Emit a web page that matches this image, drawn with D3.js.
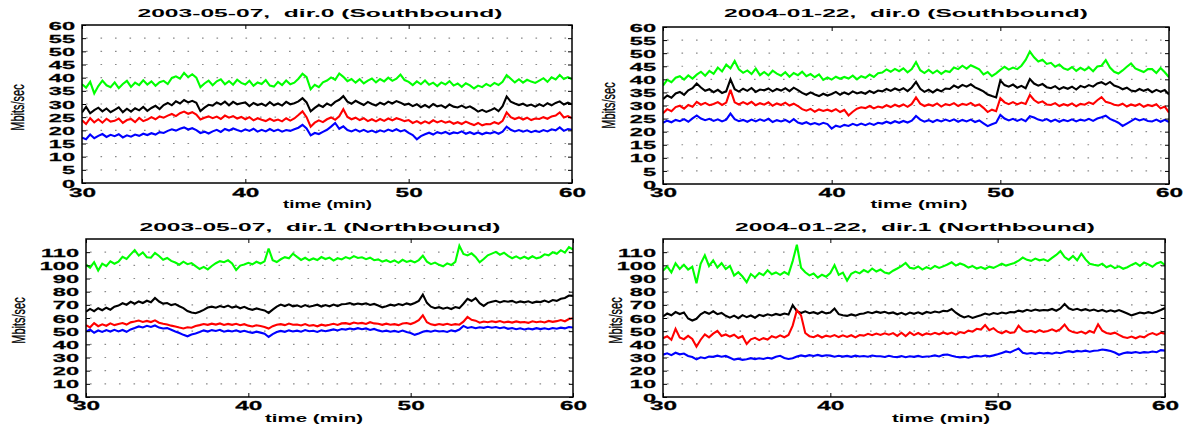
<!DOCTYPE html>
<html><head><meta charset="utf-8">
<script src="https://cdn.jsdelivr.net/npm/d3@7"></script>
<style>body{margin:0;background:#fff}svg{display:block}text{font-family:"Liberation Sans",Arial,Helvetica,sans-serif}</style>
</head><body><svg id="c" width="1186" height="428"></svg>
<script>
// sample grid: one value every 0.25 min from 30 to 60
const T0 = 30, DT = 0.25;
const xTicks = [30, 40, 50, 60];
const yTicksSouth = [0, 5, 10, 15, 20, 25, 30, 35, 40, 45, 50, 55, 60];
const yTicksNorth = [0, 10, 20, 30, 40, 50, 60, 70, 80, 90, 100, 110];
const titles = ["2003-05-07,  dir.0 (Southbound)", "2004-01-22,  dir.0 (Southbound)",
                "2003-05-07,  dir.1 (Northbound)", "2004-01-22,  dir.1 (Northbound)"];
const yLabel = "Mbits/sec";
const xLabel = "time (min)";
const seriesColors = ["#00ff00", "#000000", "#ff0000", "#0000ff"];

// ---- 2003-05-07 dir.0 ----
const s03d0Green = [37.5,36.2,38.4,34.0, 36.8,38.9,37.1,36.4, 38.2,36.0,37.6,38.8, 36.5,38.1,37.2,39.0, 37.4,38.6,36.9,38.3,
 38.8,37.6,39.9,40.5, 39.6,41.8,40.2,41.3, 40.0,36.4,37.8,38.9, 37.1,38.6,39.4,37.5, 38.7,37.3,39.2,38.0,
 37.4,38.8,36.9,38.2, 37.6,39.1,37.0,36.6, 38.4,37.2,38.9,37.5, 38.1,39.6,41.5,40.2, 35.6,37.3,36.4,38.2,
 38.9,40.1,39.2,41.6, 40.3,38.7,39.5,38.1, 39.4,37.8,38.9,39.7, 38.2,39.5,38.6,40.0, 38.8,39.6,41.2,39.1,
 38.4,37.2,38.6,37.5, 38.9,37.3,38.1,36.8, 38.2,37.4,38.7,37.0, 37.8,36.5,37.9,37.1, 35.9,37.0,36.4,37.6,
 36.8,38.0,37.2,38.4, 41.0,39.6,38.2,39.4, 38.1,39.2,38.5,38.0, 38.9,39.8,38.4,40.1, 39.3,41.0,39.5,40.2, 39.4];
const s03d0Black = [26.8,28.9,26.5,27.7, 28.6,27.2,28.3,26.9, 27.8,28.7,26.9,28.2, 27.1,28.4,27.6,28.9, 27.4,28.5,29.3,28.1,
 29.6,30.4,29.5,31.0, 30.2,31.5,30.6,31.2, 30.5,27.3,28.6,29.7, 29.4,30.6,29.8,30.9, 29.5,30.8,29.9,30.3,
 30.6,29.2,30.4,29.6, 30.1,29.3,30.7,29.5, 30.2,29.4,30.8,29.9, 30.3,31.0,32.2,30.6, 27.2,28.5,29.6,28.9,
 30.2,29.4,30.8,31.6, 33.0,30.9,30.1,31.2, 30.4,29.6,30.8,30.0, 29.4,30.5,29.8,30.9, 30.2,31.1,30.5,29.7,
 30.1,29.2,29.9,28.8, 29.6,28.7,30.0,29.1, 29.5,28.6,29.8,29.0, 28.7,29.4,28.5,29.1, 28.2,27.1,27.8,27.0,
 27.6,28.4,27.3,29.2, 32.8,30.9,30.2,29.6, 30.1,29.3,29.8,29.0, 29.9,29.2,30.3,29.5, 30.4,31.0,29.8,30.5, 29.9];
const s03d0Red = [23.8,22.4,24.6,23.0, 24.2,22.9,24.4,23.3, 23.6,24.5,22.8,23.9, 24.3,23.1,24.7,23.5, 24.1,25.0,24.2,25.3,
 24.8,25.6,26.2,25.4, 26.5,27.1,26.3,26.9, 26.0,24.1,24.8,25.3, 24.6,25.2,24.3,25.6, 24.8,25.4,24.5,25.1,
 24.2,25.0,23.8,24.6, 24.0,23.5,24.4,23.6, 24.1,23.4,24.6,23.7, 24.5,25.8,27.2,25.0, 21.4,22.9,23.8,23.1,
 24.2,24.9,24.0,25.3, 28.0,25.1,24.2,24.8, 23.9,24.6,23.5,24.2, 23.4,24.3,23.6,24.5, 23.8,24.6,24.1,23.5,
 23.9,22.8,23.5,22.6, 23.4,22.7,23.8,23.0, 23.6,22.9,23.4,22.5, 23.1,22.4,23.3,22.6, 22.0,22.8,21.9,22.4,
 22.3,23.1,22.5,23.6, 26.8,25.0,24.3,24.9, 24.1,24.8,23.9,24.5, 24.3,25.0,24.4,25.3, 25.6,26.8,24.9,25.4, 24.6];
const s03d0Blue = [17.2,16.6,18.4,17.0, 17.9,18.6,17.5,18.3, 17.8,18.5,17.3,18.1, 17.6,18.4,17.9,18.7, 18.2,18.9,18.4,19.3,
 19.0,19.8,20.4,19.9, 20.6,21.1,20.3,20.8, 20.1,19.0,19.5,18.8, 19.6,20.2,19.4,20.5, 19.9,20.7,20.1,19.6,
 20.4,19.8,20.6,19.5, 20.2,19.6,20.5,19.7, 20.3,19.5,20.1,19.8, 20.4,21.0,22.1,20.7, 18.1,19.0,18.6,19.4,
 20.2,21.4,22.8,20.6, 21.5,20.1,19.6,20.3, 19.5,20.2,19.4,19.9, 19.2,20.0,19.5,20.3, 19.7,20.4,19.6,20.1,
 19.0,18.2,16.6,17.8, 18.5,19.1,18.4,19.3, 18.8,19.4,18.6,19.2, 18.9,19.6,18.7,19.3, 18.6,19.2,18.5,19.1,
 18.8,19.4,18.7,19.5, 21.4,20.2,19.6,20.1, 19.5,20.0,19.3,19.8, 19.4,20.1,19.6,20.4, 20.0,21.1,19.8,20.5, 20.2];

// ---- 2004-01-22 dir.0 ----
const s04d0Green = [37.6,39.8,38.9,40.6, 41.2,39.9,41.5,40.3, 41.8,42.9,41.4,43.2, 42.1,44.5,43.0,45.6, 44.2,47.0,43.8,42.5,
 43.4,42.0,44.1,41.6, 42.8,41.5,43.3,42.2, 41.4,42.7,41.0,42.4, 41.6,42.9,41.2,42.0, 40.8,41.9,39.8,40.7,
 39.9,41.0,40.2,40.9, 40.3,41.4,40.0,41.2, 40.6,41.8,40.9,42.3, 42.6,43.8,42.9,44.0, 43.1,44.2,42.7,43.9,
 46.6,43.5,42.4,43.6, 42.3,43.4,42.1,43.2, 42.8,44.5,43.9,45.2, 44.1,45.4,44.6,43.8, 41.9,42.8,41.2,42.3,
 43.6,44.8,43.7,44.5, 43.9,45.2,47.4,50.6, 48.4,46.8,47.5,45.9, 46.3,44.8,45.7,44.2, 43.6,44.7,43.2,44.4,
 43.5,44.6,43.1,44.9, 45.2,47.3,44.5,42.9, 42.2,43.4,44.8,46.1, 44.2,43.5,42.8,43.9, 43.9,42.4,44.3,42.7, 40.8];
const s04d0Black = [32.4,33.8,33.0,34.6, 35.2,34.1,35.8,36.6, 38.4,36.9,35.6,36.2, 35.1,36.0,34.8,35.5, 40.0,36.2,35.3,36.4,
 35.6,36.7,35.2,36.1, 35.8,36.5,35.4,36.3, 35.7,36.6,35.5,36.8, 35.9,34.8,34.1,35.0, 34.2,33.6,34.5,33.8,
 34.4,35.2,34.1,35.0, 34.3,35.4,34.6,35.1, 34.5,35.6,34.8,35.7, 35.4,36.3,35.6,36.5, 35.8,36.6,35.5,36.9,
 39.0,36.4,35.2,36.0, 35.0,36.1,35.4,36.5, 36.3,37.6,36.8,37.9, 37.2,38.1,36.9,36.2, 35.4,34.2,33.6,33.1,
 39.6,37.8,37.2,38.0, 36.8,37.5,36.6,40.1, 38.4,37.6,38.2,37.0, 36.6,37.4,36.2,37.0, 36.4,37.2,36.1,37.5,
 36.9,37.8,37.2,38.4, 38.9,38.0,39.0,37.6, 37.1,36.2,36.8,35.7, 35.4,36.3,35.6,36.2, 35.1,36.0,35.3,35.9, 34.2];
const s04d0Red = [27.0,28.6,27.8,29.4, 29.9,28.8,30.2,29.5, 31.4,30.3,31.0,30.1, 30.6,31.3,30.2,31.1, 36.0,31.2,30.4,31.3,
 30.5,31.4,30.1,30.9, 30.3,31.2,29.9,30.8, 30.2,31.1,30.0,30.7, 29.8,28.6,28.0,28.7, 27.6,28.5,27.9,28.4,
 27.8,28.6,27.5,28.3, 26.2,27.6,28.8,29.3, 29.0,29.8,28.9,29.6, 29.2,30.1,29.4,30.3, 29.6,30.4,29.5,30.6,
 33.1,30.7,29.8,30.4, 29.9,30.8,29.6,30.5, 30.1,30.9,29.8,30.6, 30.2,31.0,29.9,30.4, 29.1,27.5,28.4,27.8,
 32.8,31.2,30.5,31.3, 30.4,31.1,30.6,34.0, 32.1,31.0,31.6,30.4, 30.2,30.9,29.8,30.5, 30.0,30.8,29.7,30.6,
 30.3,31.2,30.6,32.0, 33.2,31.4,31.0,30.3, 30.0,30.7,29.6,30.4, 29.9,30.6,29.5,30.2, 29.8,30.5,28.9,29.6, 27.3];
const s04d0Blue = [23.4,24.2,23.6,24.5, 24.0,24.8,23.8,25.1, 26.2,25.0,24.4,24.9, 24.1,24.7,23.9,24.6, 26.9,24.8,24.0,24.5,
 23.8,24.6,23.9,24.7, 24.1,24.9,23.7,24.4, 23.9,24.5,23.6,24.8, 23.5,23.0,23.6,22.8, 23.3,22.7,23.4,22.9,
 21.2,22.3,21.8,22.6, 22.2,23.0,22.4,23.1, 22.5,23.2,22.6,23.4, 23.1,23.8,23.2,24.0, 23.4,24.1,23.5,24.2,
 26.0,24.6,23.8,24.4, 23.7,24.5,23.9,24.6, 24.0,24.7,23.8,24.5, 23.9,24.6,23.7,24.3, 23.2,22.1,22.8,23.4,
 26.4,25.0,24.3,24.9, 24.1,24.8,24.0,25.9, 25.4,24.6,24.2,24.8, 23.9,24.6,23.8,24.5, 24.0,24.7,23.9,24.6,
 24.2,24.9,24.1,25.0, 25.5,26.1,24.9,24.2, 23.4,22.2,23.1,24.0, 25.0,24.3,24.8,24.1, 23.9,24.6,23.8,24.5, 23.7];

// ---- 2003-05-07 dir.1 ----
const s03d1Green = [100.5,98.2,102.4,96.1, 101.3,99.4,103.0,101.2, 102.8,106.5,104.9,108.3, 111.6,107.4,109.8,106.2, 105.8,109.4,107.1,104.2,
 105.6,103.4,102.1,100.5, 102.8,100.9,101.7,99.4, 97.2,98.8,96.9,99.5, 101.6,103.2,102.4,103.8, 101.5,96.4,99.8,100.6,
 101.9,100.8,102.7,101.4, 103.0,112.8,103.9,102.5, 104.6,106.2,105.3,108.9, 106.4,104.1,105.7,103.8, 105.2,104.0,106.3,104.8,
 105.9,103.6,105.4,104.5, 106.3,105.1,107.0,105.6, 106.1,104.7,105.8,103.9, 104.5,102.8,103.9,102.4, 103.7,101.9,104.2,102.6,
 103.5,102.2,104.0,107.3, 102.8,100.9,102.1,100.4, 99.3,101.5,100.2,102.6, 114.8,108.6,107.5,109.1, 106.4,102.3,104.8,107.6,
 108.9,110.2,108.1,109.6, 107.2,105.4,106.8,105.1, 106.5,105.0,106.9,105.3, 106.2,108.4,107.6,109.9, 108.8,111.5,109.7,113.9, 112.0];
const s03d1Black = [64.8,66.9,65.2,67.4, 65.9,67.8,66.3,68.6, 69.4,71.2,70.1,72.3, 70.8,72.6,71.4,73.1, 72.0,75.2,72.5,70.9,
 71.4,69.8,70.6,68.9, 67.5,65.3,64.1,63.6, 64.8,66.2,67.9,68.6, 67.8,69.1,68.2,69.4, 67.9,68.8,67.4,68.5,
 67.0,66.2,67.3,66.5, 65.8,63.9,66.4,68.7, 70.2,69.1,70.4,68.9, 69.6,68.4,69.8,68.6, 69.3,70.1,68.7,69.8,
 68.9,70.2,69.1,70.4, 70.6,71.3,70.2,71.0, 70.4,71.2,69.9,70.7, 69.5,68.1,69.0,70.1, 69.4,70.6,69.8,71.1,
 70.2,71.4,73.0,77.8, 71.5,68.6,67.4,68.2, 67.1,67.9,66.8,68.3, 67.5,70.8,74.6,72.9, 75.1,71.3,69.2,71.5,
 72.3,73.1,71.8,72.9, 72.4,73.0,71.6,72.6, 71.9,72.7,71.5,72.4, 72.1,73.2,72.0,73.6, 73.0,74.6,75.2,77.1, 76.8];
const s03d1Red = [54.6,52.9,56.1,53.8, 55.2,54.1,55.9,54.6, 55.4,56.2,55.0,56.7, 57.3,58.1,57.0,57.8, 56.9,58.2,56.4,55.6,
 55.1,54.2,53.6,52.8, 52.1,53.0,52.6,53.9, 54.6,55.4,54.8,55.7, 55.0,55.9,54.7,55.5, 54.8,55.6,54.5,55.3,
 54.2,53.6,54.5,53.9, 53.2,52.0,53.8,54.9, 55.3,54.6,55.8,54.9, 55.1,54.3,55.4,54.1, 54.6,53.7,54.9,54.2,
 54.8,55.6,54.7,55.9, 56.1,55.4,56.6,55.8, 56.3,55.5,56.8,55.9, 55.6,54.8,55.7,54.9, 55.3,54.6,55.8,56.2,
 55.4,56.6,58.3,62.1, 56.8,55.2,54.6,55.4, 54.8,55.6,54.7,55.3, 54.9,57.2,60.8,58.6, 58.0,56.4,57.3,56.8,
 57.5,56.9,57.7,56.6, 57.2,56.5,57.4,56.7, 57.0,56.3,57.5,56.8, 57.3,56.6,57.8,57.1, 57.6,58.4,57.5,59.2, 59.8];
const s03d1Blue = [49.6,51.2,48.8,50.5, 49.4,50.8,49.7,51.0, 49.8,50.9,49.5,51.3, 52.4,53.6,52.8,54.1, 53.2,54.3,52.7,52.0,
 52.3,51.1,49.8,48.6, 47.2,46.1,47.5,48.3, 49.4,50.6,49.7,50.8, 50.1,51.0,49.6,50.4, 49.8,50.7,49.5,50.3,
 49.4,48.7,49.6,48.9, 48.1,45.6,47.8,49.3, 50.2,49.5,50.6,49.8, 50.4,49.6,50.8,49.9, 50.3,49.4,50.7,50.0,
 50.6,51.3,50.5,51.6, 51.2,52.0,51.4,52.3, 51.5,52.1,50.9,51.7, 50.6,49.8,50.4,49.6, 50.2,49.4,50.5,49.3,
 48.6,47.2,48.3,49.5, 50.2,49.6,50.5,49.8, 50.1,49.4,50.6,49.9, 51.2,54.0,52.4,53.1, 52.2,53.0,52.5,53.3,
 52.6,53.1,52.2,52.9, 51.8,52.4,51.5,52.2, 51.3,52.0,51.4,52.3, 51.6,52.2,51.5,52.4, 51.9,52.7,52.1,53.2, 52.8];

// ---- 2004-01-22 dir.1 ----
const s04d1Green = [95.8,99.2,94.6,101.5, 97.3,100.4,96.8,98.9, 86.4,101.2,107.6,99.5, 103.8,98.4,101.6,97.2, 99.6,92.3,94.8,91.5,
 87.2,93.4,90.8,94.1, 92.5,96.3,93.2,94.6, 92.8,94.9,93.1,103.2, 115.6,98.2,94.7,92.4, 93.8,90.6,92.9,91.4,
 94.2,100.1,92.8,94.5, 88.4,93.6,95.2,93.9, 96.4,94.8,97.6,95.3, 96.8,94.5,93.7,95.9, 97.6,99.4,101.8,98.2,
 97.5,99.1,96.8,98.6, 97.3,99.5,98.0,99.2, 100.6,102.3,99.8,101.4, 100.2,98.3,99.4,97.6, 98.7,97.2,99.0,98.1,
 99.6,101.2,99.8,100.9, 101.8,103.5,105.9,104.2, 103.4,105.1,103.8,104.6, 103.2,105.7,107.9,110.8, 106.3,104.2,107.1,103.8,
 108.9,104.5,101.2,100.4, 99.8,101.3,98.6,99.9, 97.9,99.2,97.4,98.6, 100.3,101.8,99.6,102.1, 100.7,98.9,101.4,102.6, 100.2];
const s04d1Black = [61.2,63.4,62.1,64.5, 63.0,64.2,59.6,58.1, 59.4,62.8,64.6,63.2, 65.1,62.9,63.8,61.7, 60.3,61.8,59.9,62.2,
 60.6,61.9,60.2,62.4, 61.5,62.8,61.9,63.1, 62.2,63.4,62.6,69.8, 65.2,63.8,65.1,63.6, 64.4,63.2,64.8,63.5,
 64.1,67.2,62.9,62.1, 61.6,62.7,61.8,63.0, 63.4,64.5,63.6,64.8, 63.9,64.7,63.5,64.2, 62.8,63.9,62.5,64.1,
 63.2,64.3,63.0,64.6, 63.8,64.9,64.2,65.4, 65.1,66.8,64.0,61.9, 60.4,61.5,60.1,61.2, 62.1,63.4,62.5,63.8,
 63.1,64.2,63.4,64.5, 64.3,65.6,64.9,66.2, 65.3,66.4,65.6,66.1, 65.8,66.9,65.5,67.2, 70.6,67.4,66.1,67.0,
 65.8,66.7,65.5,66.4, 65.2,66.1,64.8,65.9, 64.9,66.0,64.7,63.4, 62.0,63.1,64.2,63.5, 64.4,63.6,64.8,66.1, 67.6];
const s04d1Red = [44.6,46.1,43.4,51.8, 45.2,43.9,46.4,44.1, 38.2,43.5,47.6,45.3, 48.1,50.2,46.4,47.5, 45.9,47.3,44.8,46.2,
 40.3,43.8,44.9,43.2, 44.7,43.6,46.2,45.1, 46.8,45.4,47.1,54.2, 65.9,62.0,48.6,46.2, 45.4,46.9,45.2,46.6,
 45.8,47.0,45.5,46.8, 45.6,46.9,45.3,47.1, 46.6,48.0,46.9,48.2, 47.1,48.4,47.3,48.5, 46.4,48.8,46.2,49.1,
 47.0,48.6,46.9,48.3, 47.5,48.7,47.6,49.0, 47.8,48.9,47.4,49.3, 48.5,50.4,49.6,51.8, 51.2,54.6,50.8,52.3,
 49.6,48.4,50.1,48.7, 49.2,54.1,50.6,49.5, 50.3,49.1,50.7,49.4, 50.2,51.4,49.9,51.6, 55.0,50.8,49.3,48.6,
 49.7,48.2,50.1,48.9, 55.2,50.3,48.6,48.0, 48.9,47.2,45.6,44.8, 45.9,44.6,46.1,45.3, 47.4,48.6,47.2,48.8, 48.1];
const s04d1Blue = [32.1,33.2,31.8,33.6, 32.4,33.0,31.2,30.4, 28.6,30.2,29.5,30.8, 30.5,31.4,30.6,31.2, 29.8,28.4,29.1,28.2,
 28.6,29.5,28.8,29.4, 28.9,29.8,29.2,30.6, 31.3,29.6,28.9,29.4, 30.8,31.6,30.9,31.8, 31.2,32.0,31.1,31.7,
 31.4,30.6,31.3,30.7, 31.2,30.5,31.4,30.8, 31.1,30.6,31.5,30.9, 31.0,30.4,31.3,30.6, 30.3,31.1,30.2,30.9,
 30.5,31.2,30.4,30.8, 31.0,31.6,30.8,32.0, 32.3,31.4,30.6,30.1, 30.5,29.8,30.7,31.2, 30.8,31.5,30.9,31.6,
 32.4,33.5,34.6,33.8, 35.4,36.8,33.6,32.9, 33.4,32.8,33.6,33.0, 33.5,32.9,33.8,33.2, 34.2,34.8,34.1,35.0,
 34.6,35.2,34.4,35.1, 35.3,36.1,35.6,34.9, 33.8,32.1,33.2,33.9, 33.5,34.2,33.4,34.1, 33.8,34.5,34.0,35.6, 35.2];

// ---- layout ----
const panels = [
  {x0:82, x1:572, y0:25, y1:183, ymax:60, yt:yTicksSouth, title:titles[0], tx:320, ty:16.7, tw:365, yl:[24,107.5], xl:[327.5,207.5], xlw:89, xtb:13.5,
   data:[s03d0Green, s03d0Black, s03d0Red, s03d0Blue]},
  {x0:663, x1:1169, y0:27, y1:184, ymax:60, yt:yTicksSouth, title:titles[1], tx:906, ty:16.7, tw:364, yl:[615,105.5], xl:[919,207.5], xlw:97, xtb:13,
   data:[s04d0Green, s04d0Black, s04d0Red, s04d0Blue]},
  {x0:86, x1:573, y0:239, y1:397, ymax:120, yt:yTicksNorth, title:titles[2], tx:320, ty:231, tw:361, yl:[25,320.5], xl:[314,421.5], xlw:98, xtb:13,
   data:[s03d1Green, s03d1Black, s03d1Red, s03d1Blue]},
  {x0:663, x1:1165, y0:239, y1:397, ymax:120, yt:yTicksNorth, title:titles[3], tx:915, ty:231, tw:360, yl:[622,320.5], xl:[941,421.5], xlw:98, xtb:13,
   data:[s04d1Green, s04d1Black, s04d1Red, s04d1Blue]}
];

const svg = d3.select("#c");
const FONT = '"Liberation Sans", Arial, Helvetica, sans-serif';

panels.forEach((p, pi) => {
  const x = d3.scaleLinear().domain([30, 60]).range([p.x0, p.x1]);
  const y = d3.scaleLinear().domain([0, p.ymax]).range([p.y1, p.y0]);
  const g = svg.append("g");

  // dotted grid
  g.selectAll("line.grid").data(p.yt.filter(v => v > 0 && v < p.ymax)).join("line")
    .attr("class", "grid")
    .attr("x1", p.x0 + 4).attr("x2", p.x1).attr("y1", d => y(d)).attr("y2", d => y(d))
    .attr("stroke", "#8a8a8a").attr("stroke-width", 1.1).attr("stroke-dasharray", "1.6,12.9");

  // clip
  g.append("clipPath").attr("id", "clip" + pi).append("rect")
    .attr("x", p.x0).attr("y", p.y0).attr("width", p.x1 - p.x0).attr("height", p.y1 - p.y0);

  const line = d3.line().x((d, i) => x(T0 + i * DT)).y(d => y(d));
  const lg = g.append("g").attr("clip-path", `url(#clip${pi})`);
  p.data.forEach((s, k) => {
    lg.append("path").datum(s).attr("d", line).attr("fill", "none")
      .attr("stroke", seriesColors[k]).attr("stroke-width", 2.1).attr("stroke-linejoin", "miter")
      .attr("stroke-miterlimit", 3);
  });

  // frame
  g.append("rect").attr("x", p.x0).attr("y", p.y0).attr("width", p.x1 - p.x0).attr("height", p.y1 - p.y0)
    .attr("fill", "none").attr("stroke", "#000").attr("stroke-width", 1.5);

  // axes with inward ticks
  const left = g.append("g").attr("transform", `translate(${p.x0},0)`)
    .call(d3.axisLeft(y).tickValues(p.yt).tickSize(-4).tickPadding(0));
  const right = g.append("g").attr("transform", `translate(${p.x1},0)`)
    .call(d3.axisRight(y).tickValues(p.yt).tickSize(-4).tickFormat(() => ""));
  const top = g.append("g").attr("transform", `translate(0,${p.y0})`)
    .call(d3.axisTop(x).tickValues(xTicks).tickSize(-4).tickFormat(() => ""));
  const bottom = g.append("g").attr("transform", `translate(0,${p.y1})`)
    .call(d3.axisBottom(x).tickValues(xTicks).tickSize(-4).tickPadding(0));
  [left, right, top, bottom].forEach(a => {
    a.select(".domain").remove();
    a.selectAll(".tick line").attr("stroke", "#000").attr("stroke-width", 1);
  });
  left.selectAll(".tick text")
    .attr("x", 0).attr("dy", "0.36em").attr("text-anchor", "end")
    .attr("transform", "translate(-7,0) scale(2.05,1)")
    .attr("stroke", "#000").attr("stroke-width", 0.25)
    .style("font-family", FONT).style("font-size", "11.5px").style("font-weight", "bold").attr("fill", "#000");
  bottom.selectAll(".tick text")
    .attr("y", 0).attr("dy", 0).attr("text-anchor", "middle")
    .attr("transform", `translate(0,${p.xtb}) scale(1.95,1)`)
    .attr("stroke", "#000").attr("stroke-width", 0.25)
    .style("font-family", FONT).style("font-size", "12.5px").style("font-weight", "bold").attr("fill", "#000");

  // title
  g.append("text").attr("x", p.tx).attr("y", p.ty).attr("text-anchor", "middle")
    .attr("textLength", p.tw).attr("lengthAdjust", "spacingAndGlyphs")
    .style("white-space", "pre")
    .style("font-family", FONT).style("font-size", "11.5px").style("font-weight", "bold")
    .text(p.title);

  // x label
  g.append("text").attr("x", p.xl[0]).attr("y", p.xl[1]).attr("text-anchor", "middle")
    .attr("textLength", p.xlw).attr("lengthAdjust", "spacingAndGlyphs")
    .style("font-family", FONT).style("font-size", "11.5px").style("font-weight", "bold")
    .text(xLabel);

  // y label (rotated, stretched across)
  g.append("text")
    .attr("transform", `translate(${p.yl[0]},${p.yl[1]}) rotate(-90) scale(1,1.6)`)
    .attr("text-anchor", "middle")
    .attr("stroke", "#000").attr("stroke-width", 0.2)
    .style("font-family", FONT).style("font-size", "11px")
    .text(yLabel);
});
</script>
</body></html>
